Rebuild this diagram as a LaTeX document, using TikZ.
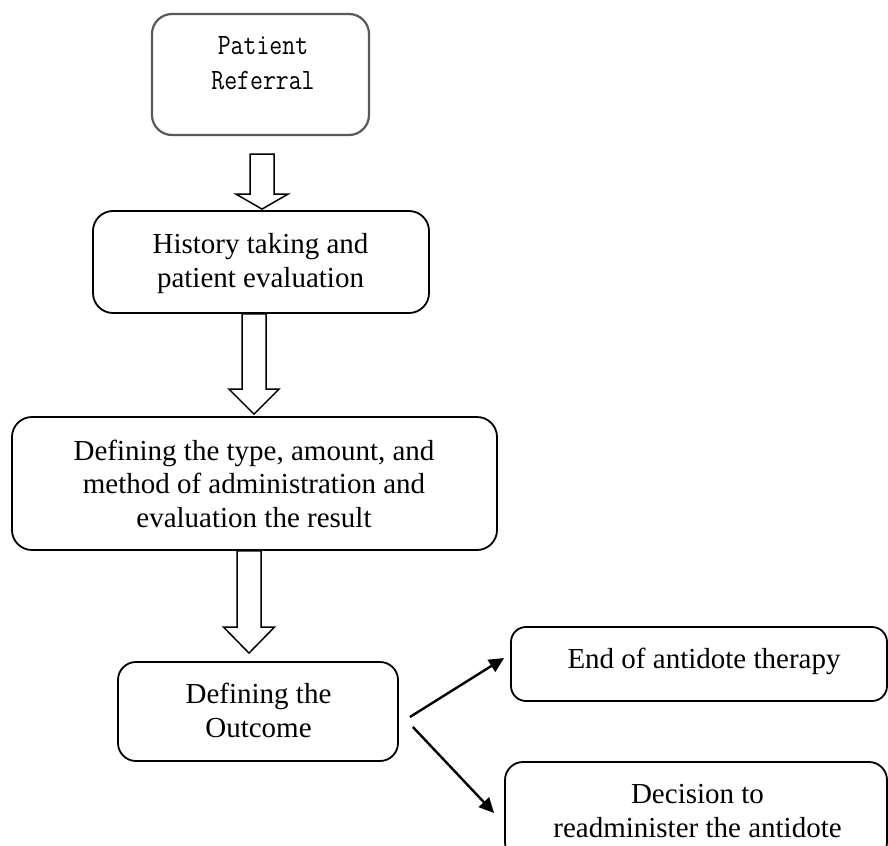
\documentclass[tikz,border=0pt]{standalone}
\usepackage{fontspec}
\setmainfont{Liberation Serif}
\usetikzlibrary{arrows.meta,calc}
\tikzset{
  box/.style={draw=black, line width=1.8bp, rounded corners=20bp, fill=white, inner sep=0pt},
  graybox/.style={draw=black!65, line width=2.2bp, rounded corners=20bp, fill=white, inner sep=0pt},
  txt/.style={align=center, anchor=base, inner sep=0pt, font=\fontsize{29bp}{33.5bp}\selectfont},
  monotxt/.style={align=center, anchor=base, inner sep=0pt, font=\ttfamily\fontsize{29.5bp}{34.5bp}\selectfont},
  blockarr/.style={draw=black, line width=1.5bp, fill=white, line join=miter},
  thinarr/.style={draw=black, line width=2.4bp, -{Triangle[length=15bp,width=14bp]}}
}
% #1 from node, #2 to node, #3 x, #4 top gap, #5 bottom gap, #6 head length, #7 shaft half width, #8 head half width
\newcommand\hollowarrow[8]{%
  \draw[blockarr] let \p1=(#1.south), \p2=(#2.north) in
    (#3bp-#7bp, \y1-#4bp) -- (#3bp-#7bp, \y2+#5bp+#6bp) -- (#3bp-#8bp, \y2+#5bp+#6bp)
    -- (#3bp, \y2+#5bp) -- (#3bp+#8bp, \y2+#5bp+#6bp) -- (#3bp+#7bp, \y2+#5bp+#6bp)
    -- (#3bp+#7bp, \y1-#4bp) -- cycle;
}
\begin{document}
\begin{tikzpicture}[x=1bp, y=-1bp]
\useasboundingbox (0,0) rectangle (888,846);
\clip (0,0) rectangle (888,846);
\fill[white] (0,0) rectangle (888,846);

% boxes
\node[graybox, minimum width=217bp, minimum height=121bp] (b1) at (260.5,74.5) {};
\node[box, minimum width=336bp, minimum height=102bp] (b2) at (261,262) {};
\node[box, minimum width=485bp, minimum height=133bp] (b3) at (254.5,483.5) {};
\node[box, rounded corners=18bp, minimum width=280bp, minimum height=99bp] (b4) at (258,711.5) {};
\node[box, rounded corners=15bp, minimum width=376bp, minimum height=74bp] (b5) at (699,664) {};
\node[box, rounded corners=18bp, minimum width=382bp, minimum height=98bp] (b6) at (696,811) {};

% texts (anchor base = baseline of last line)
\node[monotxt] (t1) at (263,89) {\scalebox{0.85}[1]{Patient}\\\scalebox{0.85}[1]{Referral}};
\node[txt] (t2) at (260.5,287) {History taking and\\patient evaluation};
\node[txt] (t3) at (254,527) {Defining the type, amount, and\\method of administration and\\evaluation the result};
\node[txt] (t4) at (258.5,737) {Defining the\\Outcome};
\node[txt] (t5) at (704,668) {End of antidote therapy};
\node[txt] (t6) at (697.5,837) {Decision to\\readminister the antidote};

% block arrows
\hollowarrow{b1}{b2}{262}{18}{1}{15}{12}{26}
\hollowarrow{b2}{b3}{254}{0}{2}{25}{12}{25}
\hollowarrow{b3}{b4}{249}{0}{8}{26}{12}{25.5}

% thin arrows
\draw[thinarr] ($(b4.east)+(11,5.5)$) -- ($(b5.west)+(-6,-6)$);
\draw[thinarr] ($(b4.east)+(14,15.5)$) -- ($(b6.west)+(-10,2)$);
\end{tikzpicture}
\end{document}
